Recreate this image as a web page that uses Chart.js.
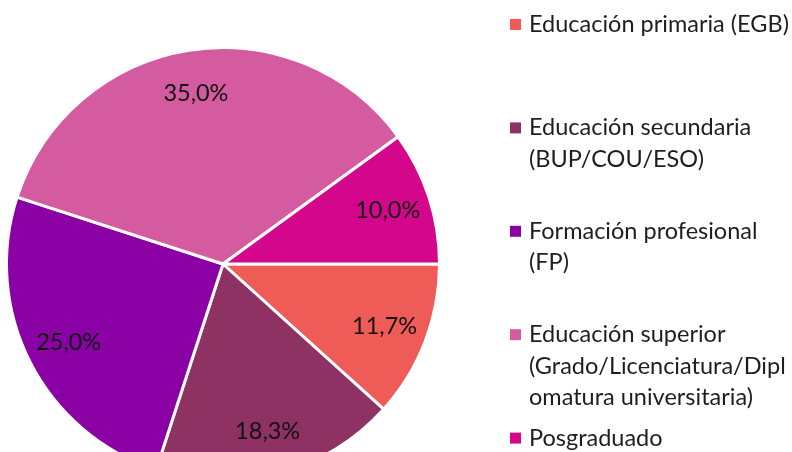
<!DOCTYPE html>
<html>
<head>
<meta charset="utf-8">
<script src="https://cdn.jsdelivr.net/npm/chart.js@4"></script>
<style>
  html, body { margin: 0; padding: 0; background: #fff; }
  #wrap { width: 792px; height: 452px; overflow: hidden; position: relative; }
  #chart { position: absolute; left: 0; top: 0; }
</style>
</head>
<body>
<div id="wrap">
  <canvas id="chart" width="792" height="530"></canvas>
</div>
<script>
// categories (legend lines as they wrap in the original)
const categories = [
	['Educación primaria (EGB)'],
	['Educación secundaria', '(BUP/COU/ESO)'],
	['Formación profesional', '(FP)'],
	['Educación superior', '(Grado/Licenciatura/Dipl', 'omatura universitaria)'],
	['Posgraduado']
];
// percentages
const shares = [11.7, 18.3, 25.0, 35.0, 10.0];
const sliceColors = ['#EF5B57', '#8E3163', '#8B00A5', '#D45B9F', '#D4068B'];

const FONT = 'Lato, "Open Sans", sans-serif';

function fmtPct(v) {
	return v.toFixed(1).replace('.', ',') + '%';
}

// percentage labels inside the slices
const sliceLabels = {
	id: 'sliceLabels',
	afterDatasetsDraw(chart) {
		const ctx = chart.ctx;
		const meta = chart.getDatasetMeta(0);
		ctx.save();
		ctx.font = '23.5px ' + FONT;
		ctx.fillStyle = '#111';
		ctx.textAlign = 'center';
		ctx.textBaseline = 'middle';
		meta.data.forEach((arc, i) => {
			const p = arc.getProps(['x', 'y', 'startAngle', 'endAngle', 'outerRadius'], true);
			const mid = (p.startAngle + p.endAngle) / 2;
			const r = p.outerRadius * 0.8;
			ctx.fillText(fmtPct(chart.data.datasets[0].data[i]), p.x + Math.cos(mid) * r, p.y + Math.sin(mid) * r);
		});
		ctx.restore();
	}
};

// legend on the right, one entry every ~103px
const sideLegend = {
	id: 'sideLegend',
	afterDraw(chart) {
		const ctx = chart.ctx;
		ctx.save();
		ctx.font = '23.5px ' + FONT;
		ctx.textBaseline = 'middle';
		ctx.textAlign = 'left';
		chart.data.labels.forEach((lines, i) => {
			const y0 = 24.5 + i * 103.4;
			ctx.fillStyle = sliceColors[i];
			ctx.fillRect(510, y0 - 5.5, 11, 11);
			ctx.fillStyle = '#1e1e1e';
			lines.forEach((line, j) => {
				ctx.fillText(line, 529, y0 + j * 31.5);
			});
		});
		ctx.restore();
	}
};

const chart = new Chart(document.getElementById('chart').getContext('2d'), {
	type: 'pie',
	data: {
		labels: categories,
		datasets: [{
			data: shares,
			backgroundColor: sliceColors,
			borderColor: '#ffffff',
			borderWidth: 3
		}]
	},
	options: {
		responsive: false,
		animation: false,
		rotation: 90,
		layout: {
			padding: {left: 5, top: 46, right: 351, bottom: 48}
		},
		plugins: {
			legend: {display: false},
			tooltip: {enabled: false}
		}
	},
	plugins: [sliceLabels, sideLegend]
});
</script>
</body>
</html>
